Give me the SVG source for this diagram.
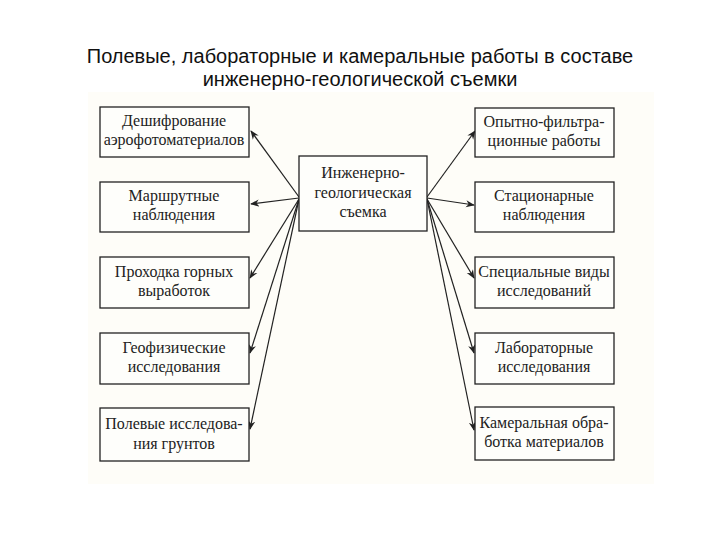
<svg xmlns="http://www.w3.org/2000/svg" width="720" height="540" viewBox="0 0 720 540">
<defs>
<style>
.title{font-family:"Liberation Sans",Arial,sans-serif;font-size:20px;fill:#111;text-anchor:middle}
.box{fill:#fefefb;stroke:#222;stroke-width:1.3}
.lbl{font-family:"Liberation Serif","DejaVu Serif",serif;font-size:16px;fill:#222;text-anchor:middle}
.con{stroke:#222;stroke-width:1.2;fill:none}
</style>
<marker id="ah" viewBox="0 0 10 10" refX="9" refY="5" markerWidth="9" markerHeight="9" markerUnits="userSpaceOnUse" orient="auto">
<path d="M0,1 L10,5 L0,9 L3,5 Z" fill="#222"/>
</marker>
</defs>
<rect x="0" y="0" width="720" height="540" fill="#ffffff"/>
<rect x="88" y="92" width="566" height="392" fill="#fefdf8"/>
<g id="title">
<text class="title" x="360" y="63">Полевые, лабораторные и камеральные работы в составе</text>
<text class="title" x="360" y="86">инженерно-геологической съемки</text>
</g>
<g id="connectors">
<line class="con" x1="299" y1="197" x2="251" y2="131" marker-end="url(#ah)"/>
<line class="con" x1="299" y1="198" x2="251" y2="204" marker-end="url(#ah)"/>
<line class="con" x1="299" y1="199" x2="250" y2="278" marker-end="url(#ah)"/>
<line class="con" x1="299" y1="199" x2="250" y2="353" marker-end="url(#ah)"/>
<line class="con" x1="299" y1="199" x2="250" y2="429" marker-end="url(#ah)"/>
<line class="con" x1="427" y1="197" x2="475" y2="131" marker-end="url(#ah)"/>
<line class="con" x1="427" y1="198" x2="474" y2="205" marker-end="url(#ah)"/>
<line class="con" x1="427" y1="199" x2="474" y2="278" marker-end="url(#ah)"/>
<line class="con" x1="427" y1="199" x2="474" y2="353" marker-end="url(#ah)"/>
<line class="con" x1="427" y1="199" x2="474" y2="430" marker-end="url(#ah)"/>
</g>
<g id="center">
<rect class="box" x="299" y="156" width="128" height="75"/>
<text class="lbl" x="363" y="178" font-family="Liberation Serif, serif">Инженерно-</text>
<text class="lbl" x="363" y="198" font-family="Liberation Serif, serif">геологическая</text>
<text class="lbl" x="363" y="217" font-family="Liberation Serif, serif">съемка</text>
</g>
<g id="l1">
<rect class="box" x="100" y="107" width="149" height="50"/>
<text class="lbl" x="174" y="126">Дешифрование</text>
<text class="lbl" x="174" y="145">аэрофотоматериалов</text>
</g>
<g id="l2">
<rect class="box" x="100" y="182" width="149" height="50"/>
<text class="lbl" x="174" y="201">Маршрутные</text>
<text class="lbl" x="174" y="220">наблюдения</text>
</g>
<g id="l3">
<rect class="box" x="100" y="257" width="149" height="51"/>
<text class="lbl" x="174" y="277">Проходка горных</text>
<text class="lbl" x="174" y="296">выработок</text>
</g>
<g id="l4">
<rect class="box" x="100" y="333" width="149" height="51"/>
<text class="lbl" x="174" y="353">Геофизические</text>
<text class="lbl" x="174" y="372">исследования</text>
</g>
<g id="l5">
<rect class="box" x="100" y="408" width="149" height="53"/>
<text class="lbl" x="174" y="429">Полевые исследова-</text>
<text class="lbl" x="174" y="449">ния грунтов</text>
</g>
<g id="r1">
<rect class="box" x="475" y="108" width="139" height="49"/>
<text class="lbl" x="544" y="127">Опытно-фильтра-</text>
<text class="lbl" x="544" y="146">ционные работы</text>
</g>
<g id="r2">
<rect class="box" x="475" y="182" width="139" height="50"/>
<text class="lbl" x="544" y="201">Стационарные</text>
<text class="lbl" x="544" y="220">наблюдения</text>
</g>
<g id="r3">
<rect class="box" x="475" y="257" width="139" height="51"/>
<text class="lbl" x="544" y="277">Специальные виды</text>
<text class="lbl" x="544" y="296">исследований</text>
</g>
<g id="r4">
<rect class="box" x="475" y="333" width="139" height="51"/>
<text class="lbl" x="544" y="353">Лабораторные</text>
<text class="lbl" x="544" y="372">исследования</text>
</g>
<g id="r5">
<rect class="box" x="475" y="407" width="139" height="53"/>
<text class="lbl" x="544" y="428">Камеральная обра-</text>
<text class="lbl" x="544" y="447">ботка материалов</text>
</g>
</svg>
